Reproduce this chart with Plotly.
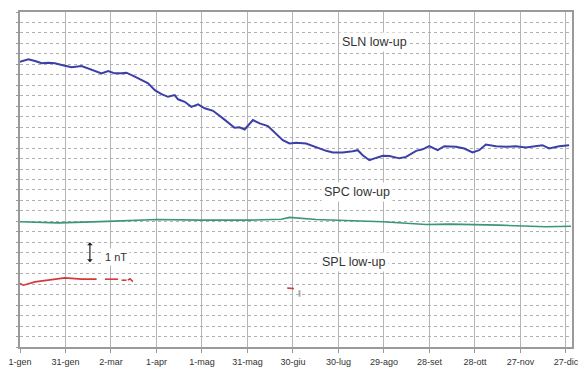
import plotly.graph_objects as go

# x: day of year (0 = 1 gennaio), y: nT (arbitrary offset)
tick_days = [0, 30, 60, 90, 120, 150, 180, 210, 240, 270, 300, 330, 360]
tick_labels = ["1-gen", "31-gen", "2-mar", "1-apr", "1-mag", "31-mag", "30-giu",
               "30-lug", "29-ago", "28-set", "28-ott", "27-nov", "27-dic"]

sln_days = [0, 5.5, 9.9, 14.3, 18.6, 23.0, 27.5, 34.0, 40.6, 47.2, 53.8, 58.1, 62.5, 67.0,
            70.2, 75.7, 80.1, 84.5, 88.9, 93.3, 97.6, 102.0, 104.2, 108.6, 113.0, 117.4,
            121.8, 127.3, 133.8, 141.5, 144.8, 148.1, 153.6, 158.0, 163.5, 169.0, 173.3,
            177.7, 182.2, 188.7, 195.3, 201.9, 206.3, 212.8, 219.4, 222.7, 226.0, 230.4,
            234.8, 239.2, 243.6, 250.2, 254.6, 261.2, 265.5, 269.9, 275.4, 279.8, 287.5,
            293.0, 298.4, 302.8, 307.2, 313.8, 320.4, 327.0, 333.6, 340.2, 344.5, 348.9,
            355.5, 362.1]
sln_vals = [13.62, 13.74, 13.66, 13.55, 13.58, 13.55, 13.47, 13.36, 13.42, 13.26, 13.07,
            13.18, 13.07, 13.07, 13.10, 12.91, 12.75, 12.59, 12.27, 12.08, 11.95, 12.03,
            11.83, 11.71, 11.47, 11.59, 11.40, 11.28, 10.92, 10.47, 10.49, 10.39, 10.84,
            10.68, 10.55, 10.20, 9.88, 9.72, 9.75, 9.72, 9.53, 9.37, 9.29, 9.29, 9.35,
            9.40, 9.16, 8.92, 9.03, 9.13, 9.12, 9.01, 9.08, 9.37, 9.44, 9.59, 9.40, 9.59,
            9.56, 9.48, 9.29, 9.40, 9.67, 9.59, 9.56, 9.59, 9.53, 9.59, 9.64, 9.48, 9.59,
            9.64]

spc_days = [0, 25.2, 52.7, 91.0, 118.5, 151.4, 172.3, 177.7, 195.3, 217.2, 239.2, 267.7,
            283.1, 316.0, 346.7, 363.4]
spc_vals = [5.98, 5.93, 5.99, 6.09, 6.06, 6.06, 6.10, 6.19, 6.09, 6.02, 5.98, 5.85, 5.87,
            5.82, 5.74, 5.77]

# SPL: gaps (None) where data is missing
spl_days = [0, 2.2, 9.9, 18.6, 29.6, 40.6, 50.5, None, 56.0, 64.7, None, 67.0, 70.2, None,
            71.1, 72.5, 74.4, None, 176.2, 180.6]
spl_vals = [3.03, 2.95, 3.11, 3.19, 3.30, 3.24, 3.24, None, 3.24, 3.24, None, 3.19, 3.19,
            None, 3.19, 3.26, 3.12, None, 2.82, 2.79]

mark_days = [184.3, 184.3]
mark_vals = [2.71, 2.40]

labels = ["SLN low-up", "SPC low-up", "SPL low-up", "1 nT"]
label_days = [233.5, 222.5, 220.5, 63.5]
label_vals = [14.56, 7.39, 4.05, 4.30]
label_sizes = [12.5, 12.5, 12.5, 11]

scale_day = 46.1
scale_vals = [3.98, 5.0]

fig = go.Figure()
fig.add_trace(go.Scatter(x=sln_days, y=sln_vals, mode="lines",
                         line=dict(color="#3b3fa6", width=2), hoverinfo="skip"))
fig.add_trace(go.Scatter(x=spc_days, y=spc_vals, mode="lines",
                         line=dict(color="#3a9676", width=1.6), hoverinfo="skip"))
fig.add_trace(go.Scatter(x=spl_days, y=spl_vals, mode="lines", connectgaps=False,
                         line=dict(color="#d23a3a", width=1.6), hoverinfo="skip"))
fig.add_trace(go.Scatter(x=mark_days, y=mark_vals, mode="lines",
                         line=dict(color="#aaaaaa", width=2), hoverinfo="skip"))

for t, d, v, s in zip(labels, label_days, label_vals, label_sizes):
    fig.add_annotation(x=d, y=v, text=t, showarrow=False, bgcolor="white",
                       font=dict(family="Liberation Sans, Arial, sans-serif", size=s,
                                 color="#333333"), borderpad=2)

fig.add_annotation(x=scale_day, y=scale_vals[1], ax=scale_day, ay=scale_vals[0],
                   xref="x", yref="y", axref="x", ayref="y", text="", showarrow=True,
                   arrowhead=1, arrowside="end+start", arrowsize=0.8, arrowwidth=1.2,
                   arrowcolor="#222222")

fig.update_layout(
    width=578, height=367,
    margin=dict(l=20, r=6, t=12, b=20, autoexpand=False),
    paper_bgcolor="white", plot_bgcolor="white",
    showlegend=False,
    font=dict(family="Liberation Sans, Arial, sans-serif", size=9, color="#333333"),
)
fig.update_xaxes(range=[0, 364], tickvals=tick_days, ticktext=tick_labels,
                 showgrid=True, gridcolor="#b5b5b5", gridwidth=1, automargin=False,
                 showline=True, linecolor="#9a9a9a", linewidth=1.5, mirror=True,
                 ticks="outside", ticklen=4, tickcolor="#9a9a9a", ticklabelstandoff=1,
                 ticklabeloverflow="allow",
                 tickfont=dict(size=9, color="#333333"), zeroline=False, fixedrange=True)
fig.update_yaxes(range=[0, 16], dtick=0.5, showticklabels=False, automargin=False,
                 showgrid=True, gridcolor="#b0b0b0", griddash="dot", gridwidth=1,
                 showline=True, linecolor="#9a9a9a", linewidth=1.5, mirror=True,
                 ticks="outside", ticklen=2, tickcolor="#9a9a9a",
                 zeroline=False, fixedrange=True)

fig.write_html("out.html", config={"displayModeBar": False},
               post_script="document.body.style.margin='0';document.body.style.overflow='hidden';")
